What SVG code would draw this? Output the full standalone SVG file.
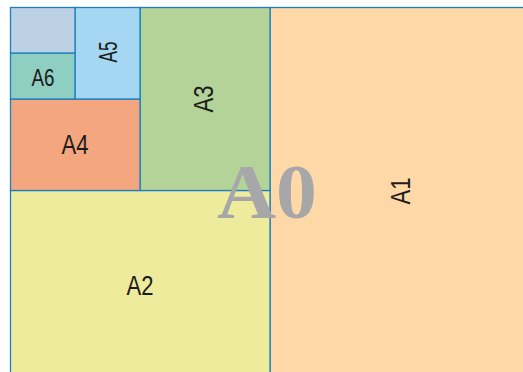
<svg xmlns="http://www.w3.org/2000/svg" width="523" height="372" viewBox="0 0 523 372">
<style>
.box{stroke:#1b7fc1;stroke-width:1.3}
.lbl{font-family:"Liberation Sans",Arial,sans-serif;fill:#1c1c1c;text-anchor:middle}
.big{font-family:"Liberation Serif","Times New Roman",serif;font-weight:bold;fill:#a7a7aa;text-anchor:middle}
</style>
<rect width="523" height="372" fill="#ffffff"/>
<g id="A1"><rect class="box" x="270" y="7.5" width="262" height="372" fill="#fed8a6"/>
<text class="lbl" transform="translate(400,191) rotate(-90)" x="0" y="10" font-size="28" textLength="27" lengthAdjust="spacingAndGlyphs">A1</text></g>
<g id="A2"><rect class="box" x="10.5" y="190.5" width="259.5" height="190" fill="#efeb9d"/>
<text class="lbl" x="140" y="295" font-size="28" textLength="27" lengthAdjust="spacingAndGlyphs">A2</text></g>
<g id="A3"><rect class="box" x="140" y="7.5" width="130" height="183" fill="#b4d398"/>
<text class="lbl" transform="translate(203,99) rotate(-90)" x="0" y="10" font-size="28" textLength="27" lengthAdjust="spacingAndGlyphs">A3</text></g>
<g id="A4"><rect class="box" x="10.5" y="99" width="129.5" height="91.5" fill="#f4a77f"/>
<text class="lbl" x="75" y="153.5" font-size="28" textLength="27" lengthAdjust="spacingAndGlyphs">A4</text></g>
<g id="A5"><rect class="box" x="75" y="7.5" width="65" height="91.5" fill="#a5d7f2"/>
<text class="lbl" transform="translate(108,52) rotate(-90)" x="0" y="9" font-size="25" textLength="21" lengthAdjust="spacingAndGlyphs">A5</text></g>
<g id="A6"><rect class="box" x="10.5" y="53" width="64.5" height="46" fill="#8ecfc1"/>
<text class="lbl" x="43" y="85.5" font-size="24" textLength="23" lengthAdjust="spacingAndGlyphs">A6</text></g>
<g id="A7"><rect class="box" x="10.5" y="7.5" width="64.5" height="45.5" fill="#bdd1e4"/></g>
<g id="A0"><text class="big" x="267" y="218" font-size="78" textLength="100" lengthAdjust="spacingAndGlyphs">A0</text></g>
</svg>
